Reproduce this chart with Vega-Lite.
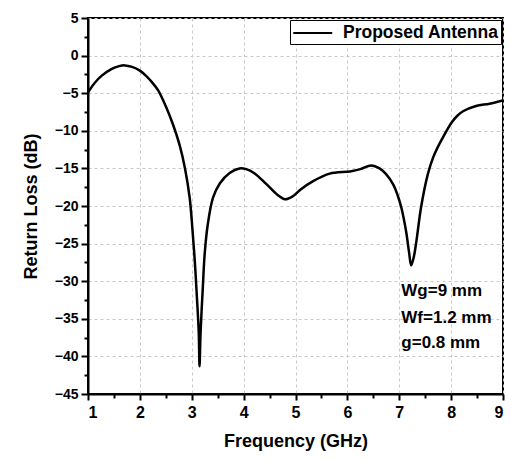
{
  "$schema": "https://vega.github.io/schema/vega-lite/v6.json",
  "autosize": {"type": "none"},
  "width": 415,
  "height": 376,
  "padding": {"left": 88, "top": 18, "right": 8, "bottom": 67},
  "config": {
    "view": {"stroke": "black", "strokeWidth": 2},
    "font": "Liberation Sans",
    "axis": {
      "ticks": true,
      "domainColor": "black", "domainWidth": 2, "tickColor": "black", "tickWidth": 2,
      "labelFont": "Liberation Sans", "labelFontWeight": "bold", "labelFontSize": 14, "labelColor": "black",
      "titleFont": "Liberation Sans", "titleFontWeight": "bold", "titleFontSize": 18, "titleColor": "black",
      "gridDash": [3, 3], "gridWidth": 1, "gridColor": "#c8c8c8", "labelOverlap": false
    }
  },
  "datasets": {
    "curve": [
      {"f": 1.0, "rl": -4.9}, {"f": 1.12, "rl": -3.7}, {"f": 1.26, "rl": -2.7}, {"f": 1.45, "rl": -1.8},
      {"f": 1.6, "rl": -1.4}, {"f": 1.71, "rl": -1.3}, {"f": 1.85, "rl": -1.5}, {"f": 2.0, "rl": -2.0},
      {"f": 2.12, "rl": -2.7}, {"f": 2.24, "rl": -3.6}, {"f": 2.35, "rl": -4.6}, {"f": 2.51, "rl": -6.9},
      {"f": 2.64, "rl": -9.2}, {"f": 2.77, "rl": -12.0}, {"f": 2.87, "rl": -15.0}, {"f": 2.96, "rl": -18.9},
      {"f": 3.01, "rl": -22.8}, {"f": 3.06, "rl": -27.5}, {"f": 3.10, "rl": -32.2}, {"f": 3.135, "rl": -36.8},
      {"f": 3.15, "rl": -41.3}, {"f": 3.17, "rl": -36.8}, {"f": 3.21, "rl": -31.3}, {"f": 3.25, "rl": -26.3},
      {"f": 3.31, "rl": -22.4}, {"f": 3.41, "rl": -18.9}, {"f": 3.54, "rl": -17.0}, {"f": 3.73, "rl": -15.6},
      {"f": 3.92, "rl": -15.0}, {"f": 4.05, "rl": -15.1}, {"f": 4.2, "rl": -15.6}, {"f": 4.44, "rl": -17.1},
      {"f": 4.65, "rl": -18.5}, {"f": 4.8, "rl": -19.1}, {"f": 4.95, "rl": -18.7}, {"f": 5.1, "rl": -17.8},
      {"f": 5.34, "rl": -16.7}, {"f": 5.66, "rl": -15.7}, {"f": 6.05, "rl": -15.4}, {"f": 6.25, "rl": -15.1},
      {"f": 6.46, "rl": -14.6}, {"f": 6.62, "rl": -15.0}, {"f": 6.75, "rl": -15.8}, {"f": 6.88, "rl": -17.1},
      {"f": 6.97, "rl": -18.6}, {"f": 7.04, "rl": -20.2}, {"f": 7.13, "rl": -23.3}, {"f": 7.19, "rl": -26.2},
      {"f": 7.23, "rl": -27.9}, {"f": 7.28, "rl": -26.8}, {"f": 7.33, "rl": -24.7}, {"f": 7.42, "rl": -20.2},
      {"f": 7.55, "rl": -15.8}, {"f": 7.65, "rl": -13.6}, {"f": 7.74, "rl": -12.2}, {"f": 7.84, "rl": -10.9},
      {"f": 8.01, "rl": -8.9}, {"f": 8.12, "rl": -8.0}, {"f": 8.23, "rl": -7.4}, {"f": 8.48, "rl": -6.7},
      {"f": 8.74, "rl": -6.4}, {"f": 9.0, "rl": -5.95}
    ],
    "notes": [
      {"f": 7.04, "rl": -32.0, "label": "Wg=9 mm"},
      {"f": 7.04, "rl": -35.5, "label": "Wf=1.2 mm"},
      {"f": 7.04, "rl": -38.9, "label": "g=0.8 mm"}
    ]
  },
  "resolve": {"axis": {"x": "independent", "y": "independent"}},
  "layer": [
    {
      "data": {"name": "curve"},
      "transform": [{"calculate": "'Proposed Antenna'", "as": "series"}],
      "mark": {"type": "line", "interpolate": "catmull-rom", "strokeWidth": 2.5, "clip": true},
      "encoding": {
        "x": {
          "field": "f", "type": "quantitative",
          "scale": {"domain": [1, 9], "nice": false, "zero": false},
          "axis": {
            "orient": "bottom", "title": "Frequency (GHz)", "titlePadding": 12,
            "values": [1, 2, 3, 4, 5, 6, 7, 8, 9], "ticks": true,
            "tickSize": 6, "labelPadding": 4, "labelFontSize": 16
          }
        },
        "y": {
          "field": "rl", "type": "quantitative",
          "scale": {"domain": [-45, 5], "nice": false, "zero": false},
          "axis": {
            "orient": "left", "title": "Return Loss (dB)", "titlePadding": 14,
            "values": [-45, -40, -35, -30, -25, -20, -15, -10, -5, 0, 5], "ticks": true,
            "tickSize": 7, "labelPadding": 3
          }
        },
        "color": {
          "field": "series", "type": "nominal",
          "scale": {"range": ["black"]},
          "legend": {
            "title": null, "orient": "top-right", "offset": 2,
            "symbolType": "M-1,0H3", "symbolSize": 380, "symbolStrokeWidth": 2,
            "symbolFillColor": "transparent",
            "labelFont": "Liberation Sans", "labelFontWeight": "bold", "labelFontSize": 17.5, "labelColor": "black",
            "labelLimit": 400,
            "strokeColor": "black", "fillColor": "white", "padding": 2, "labelOffset": 29
          }
        }
      }
    },
    {
      "data": {"name": "notes"},
      "mark": {"type": "text", "align": "left", "baseline": "alphabetic", "fontWeight": "bold", "fontSize": 17, "font": "Liberation Sans", "color": "black"},
      "encoding": {
        "x": {
          "field": "f", "type": "quantitative",
          "axis": {
            "orient": "bottom", "title": null, "labels": false, "domain": false, "grid": false, "ticks": true,
            "values": [1.5, 2.5, 3.5, 4.5, 5.5, 6.5, 7.5, 8.5], "tickSize": 4
          }
        },
        "y": {
          "field": "rl", "type": "quantitative",
          "axis": {
            "orient": "left", "title": null, "labels": false, "domain": false, "grid": false, "ticks": true,
            "values": [-42.5, -37.5, -32.5, -27.5, -22.5, -17.5, -12.5, -7.5, -2.5, 2.5], "tickSize": 4
          }
        },
        "text": {"field": "label"}
      }
    }
  ]
}
